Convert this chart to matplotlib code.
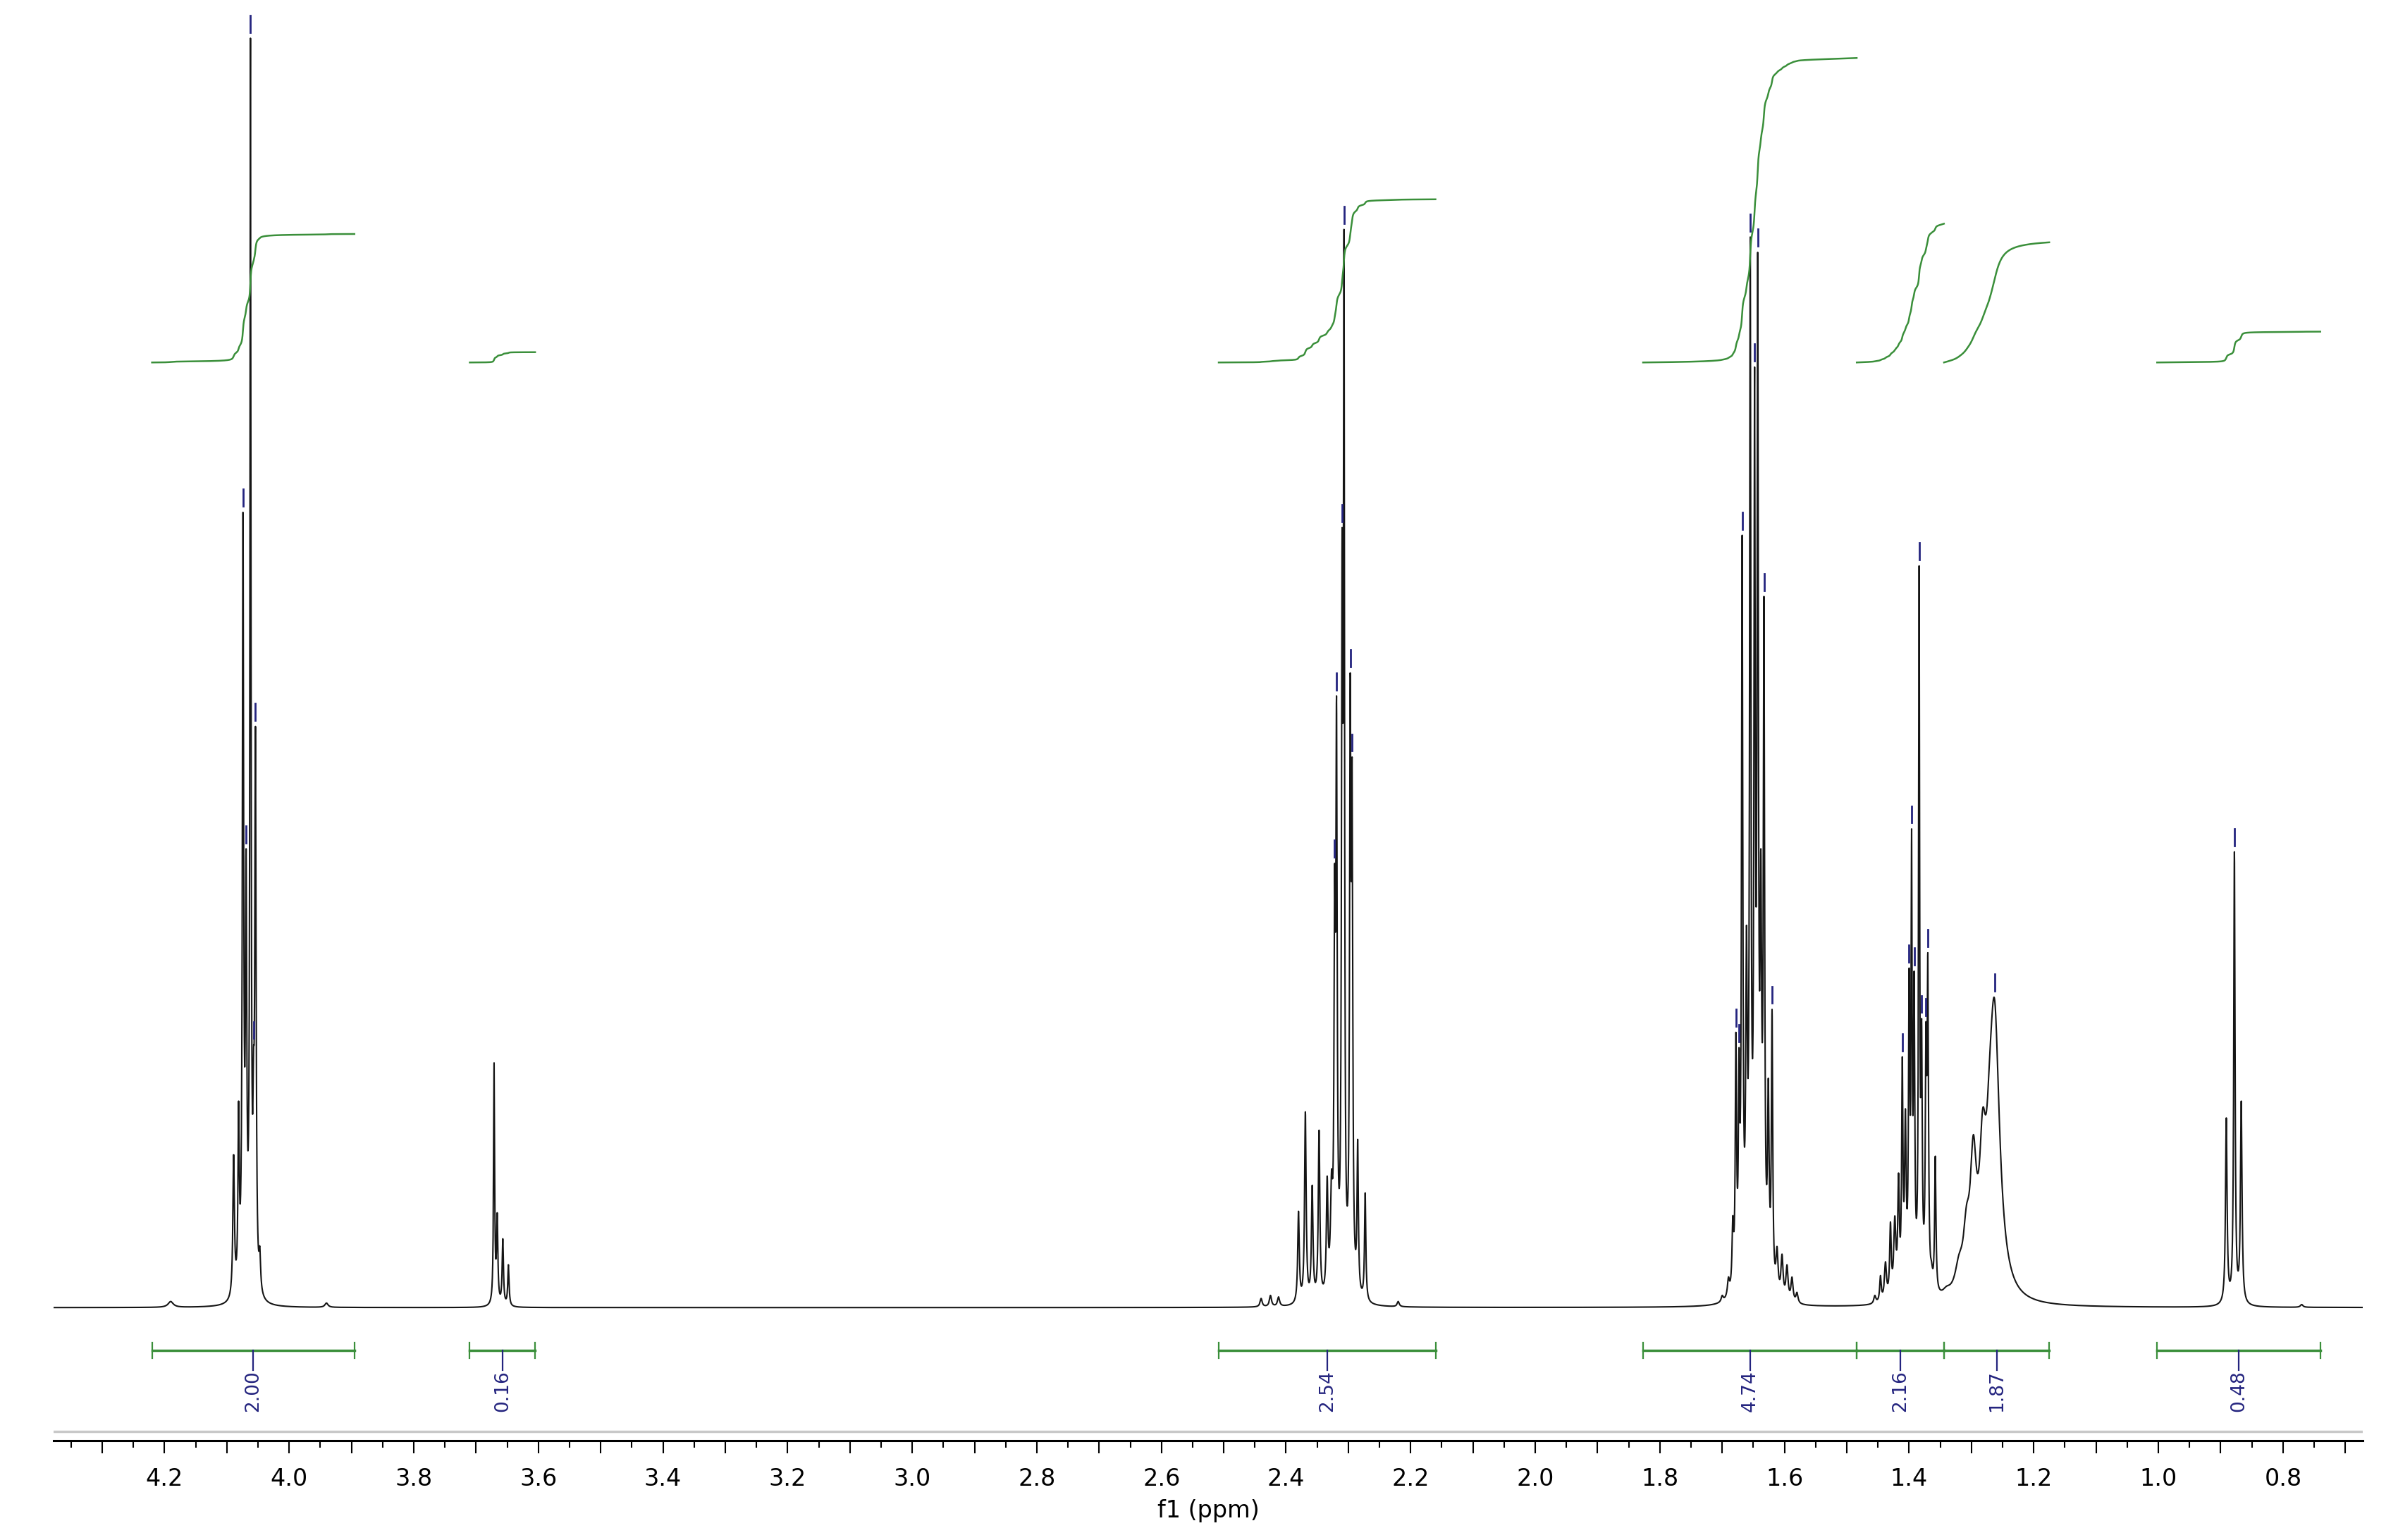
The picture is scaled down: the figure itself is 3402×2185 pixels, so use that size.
import numpy as np
import matplotlib
matplotlib.use('Agg')
import matplotlib.pyplot as plt
from matplotlib.ticker import MultipleLocator, FuncFormatter

# 1H NMR peak list:
# chemical shift (ppm), height (a.u.), line width FWHM (ppm)
peak_ppm = [4.190, 4.089, 4.081, 4.074, 4.069, 4.062, 4.057, 4.054, 4.047, 3.940,
            3.671, 3.666, 3.657, 3.648,
            2.440, 2.425, 2.412, 2.380, 2.369, 2.358, 2.347, 2.334, 2.327,
            2.322, 2.319, 2.310, 2.307, 2.297, 2.294, 2.285, 2.273, 2.220,
            1.700, 1.690, 1.683, 1.678, 1.673, 1.668, 1.661, 1.655, 1.648,
            1.643, 1.638, 1.633, 1.626, 1.620, 1.612, 1.604, 1.596, 1.588, 1.580,
            1.455, 1.446, 1.438, 1.430, 1.423, 1.417, 1.411, 1.406, 1.400,
            1.396, 1.392, 1.384, 1.380, 1.373, 1.370, 1.364, 1.358,
            1.340, 1.320, 1.308, 1.297, 1.282, 1.271, 1.263,
            0.891, 0.878, 0.867, 0.770]
peak_height = [4, 100, 135, 520, 300, 830, 170, 380, 40, 3,
               160, 62, 45, 28,
               6, 8, 7, 63, 128, 80, 116, 86, 90,
               290, 400, 510, 705, 415, 360, 110, 75, 4,
               8, 20, 60, 180, 170, 505, 250, 700, 615,
               690, 300, 465, 150, 195, 40, 35, 28, 20, 10,
               8, 21, 30, 56, 60, 88, 164, 130, 222,
               313, 220, 485, 189, 187, 232, 30, 99,
               14, 35, 67, 113, 130, 162, 202,
               124, 298, 135, 2]
peak_fwhm = [0.010, 0.003, 0.0025, 0.0025, 0.0025, 0.002, 0.0025, 0.0025, 0.003, 0.006,
             0.002, 0.0025, 0.0025, 0.0025,
             0.004, 0.004, 0.004, 0.003, 0.003, 0.003, 0.003, 0.003, 0.004,
             0.0025, 0.0025, 0.0025, 0.002, 0.0025, 0.0025, 0.0025, 0.0025, 0.004,
             0.004, 0.004, 0.003, 0.0025, 0.0025, 0.0025, 0.003, 0.0025, 0.0025,
             0.0025, 0.003, 0.0025, 0.003, 0.0025, 0.004, 0.004, 0.004, 0.004, 0.004,
             0.004, 0.003, 0.004, 0.003, 0.004, 0.003, 0.0025, 0.003, 0.0025,
             0.002, 0.0025, 0.002, 0.0025, 0.0025, 0.0025, 0.004, 0.0025,
             0.015, 0.015, 0.012, 0.012, 0.012, 0.012, 0.020,
             0.003, 0.0025, 0.003, 0.005]

# picked peaks (small blue marks)
pick_ppm = [4.074, 4.069, 4.062, 4.057, 4.054,
            2.322, 2.319, 2.310, 2.307, 2.297, 2.294,
            1.678, 1.673, 1.668, 1.655, 1.648, 1.643, 1.633, 1.620,
            1.411, 1.400, 1.396, 1.392, 1.384, 1.380, 1.373, 1.370,
            1.263, 0.878]

# integral regions (ppm) and values
int_start = [4.220, 3.710, 2.508, 1.827, 1.484, 1.344, 1.002]
int_end = [3.895, 3.605, 2.160, 1.484, 1.344, 1.175, 0.740]
int_value = [2.00, 0.16, 2.54, 4.74, 2.16, 1.87, 0.48]

X_LEFT, X_RIGHT = 4.378, 0.672
INT_BASE = 618
INT_SCALE = 42

GREEN = '#3a8f3a'
NAVY = '#24247f'

ppm = np.arange(X_RIGHT, X_LEFT, 0.0002)


def lorentz(x, x0, fwhm):
    return 1.0 / (1.0 + ((x - x0) / (fwhm / 2.0)) ** 2)


pos = np.array(peak_ppm)
wid = np.array(peak_fwhm)
A = lorentz(pos[:, None], pos[None, :], wid[None, :])
amp = np.clip(np.linalg.solve(A, np.array(peak_height, float)), 0, None)

spec = np.zeros_like(ppm)
for x0, w, a in zip(pos, wid, amp):
    spec += a * lorentz(ppm, x0, w)

fig = plt.figure(figsize=(34.02, 21.85), dpi=100)
ax = fig.add_axes([76 / 3402, 0.0645, (3352 - 76) / 3402, 0.9355])

ax.plot(ppm, spec, color='#151515', lw=1.5)

# peak picking marks
for p in pick_ppm:
    i = np.argmin(np.abs(ppm - p))
    top = spec[max(i - 3, 0):i + 4].max()
    ax.plot([p, p], [top + 4, top + 15], color=NAVY, lw=2.0)

# integral curves, bars and labels
for a, b, v in zip(int_start, int_end, int_value):
    m = (ppm <= a) & (ppm >= b)
    xs = ppm[m][::-1]
    cum = np.cumsum(spec[m][::-1])
    cum = cum / cum[-1] * v * INT_SCALE
    ax.plot(xs, INT_BASE + cum, color=GREEN, lw=1.8)

    ax.plot([a, b], [-28, -28], color=GREEN, lw=2.5)
    ax.plot([a, a], [-33, -23], color=GREEN, lw=1.6)
    ax.plot([b, b], [-33, -23], color=GREEN, lw=1.6)
    mid = (a + b) / 2
    ax.plot([mid, mid], [-28, -41], color=NAVY, lw=1.6)
    ax.text(mid, -41, f'{v:.2f}', rotation=90, ha='center', va='top',
            fontsize=19, color=NAVY)

ax.axhline(-81, color='#c8c8c8', lw=2.5)

ax.set_xlim(X_LEFT, X_RIGHT)
ax.set_ylim(-87, 855)
for s in ('top', 'left', 'right'):
    ax.spines[s].set_visible(False)
ax.spines['bottom'].set_linewidth(2.2)
ax.set_yticks([])
ax.xaxis.set_major_locator(MultipleLocator(0.1))
ax.xaxis.set_minor_locator(MultipleLocator(0.05))
ax.xaxis.set_major_formatter(FuncFormatter(
    lambda v, p: f'{v:.1f}' if round(v * 10) % 2 == 0 else ''))
ax.tick_params(axis='x', which='major', direction='out', length=13, width=1.5,
               labelsize=24, pad=14)
ax.tick_params(axis='x', which='minor', direction='out', length=7, width=1.5)

fig.text(0.504, 0.019, 'f1 (ppm)', ha='center', va='center', fontsize=24)

fig.savefig('out.png', dpi=100)
